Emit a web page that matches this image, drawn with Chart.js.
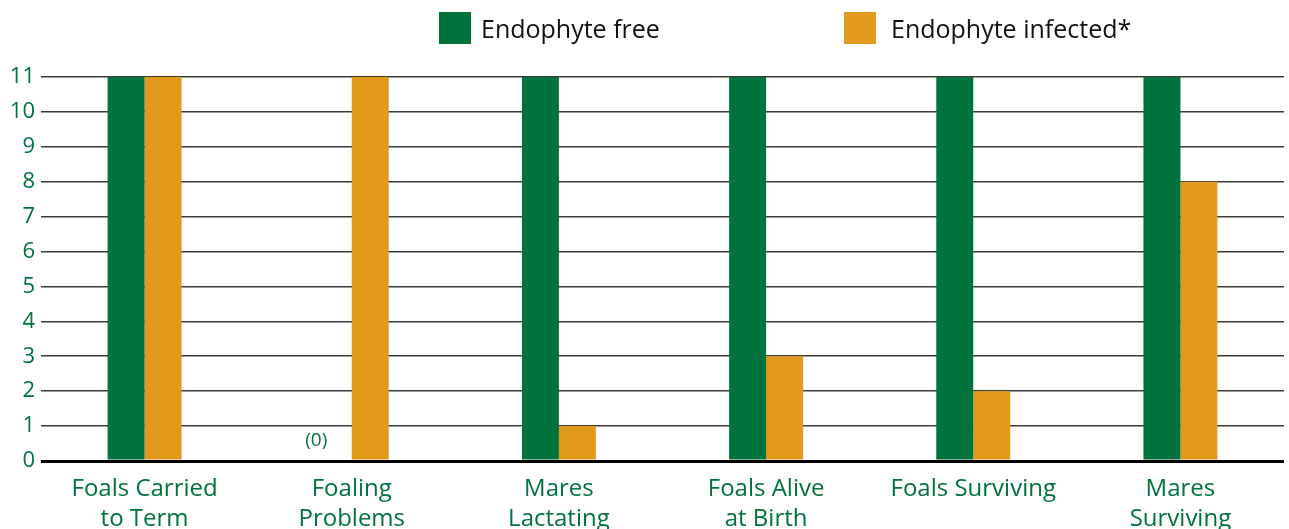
<!DOCTYPE html>
<html>
<head>
<meta charset="utf-8">
<script src="https://cdn.jsdelivr.net/npm/chart.js@4/dist/chart.umd.min.js"></script>
<style>
  html, body { margin: 0; padding: 0; background: #fff; overflow: hidden; }
  #wrap { position: relative; width: 1289px; height: 545px; }
  #legend { position: absolute; top: 0; left: 0; width: 1289px; height: 60px; font-family: "Open Sans", sans-serif; font-size: 25px; color: #111; }
  .item { position: absolute; top: 12px; display: flex; align-items: center; height: 32px; }
  .box { width: 32px; height: 32px; }
</style>
</head>
<body>
<div id="wrap">
  <canvas id="chart" width="1289" height="545"></canvas>
  <div id="legend"></div>
</div>
<script>
const categories = [
    ['Foals Carried', 'to Term'],
    ['Foaling', 'Problems'],
    ['Mares', 'Lactating'],
    ['Foals Alive', 'at Birth'],
    ['Foals Surviving'],
    ['Mares', 'Surviving']
];
const seriesNames = ['Endophyte free', 'Endophyte infected*'];
const endophyteFree = [11, 0, 11, 11, 11, 11];
const endophyteInfected = [11, 11, 1, 3, 2, 8];
const yTicks = [0, 1, 2, 3, 4, 5, 6, 7, 8, 9, 10, 11];

const green = '#00733d';
const orange = '#e3991b';
const legendX = [439, 844];
const legendGap = [10, 15];

// "(0)" note next to the empty green bar
const zeroNote = {
    id: 'zeroNote',
    afterDatasetsDraw(chart) {
        const meta = chart.getDatasetMeta(0);
        const ctx = chart.ctx;
        endophyteFree.forEach((v, i) => {
            if (v !== 0) return;
            const bar = meta.data[i];
            ctx.save();
            ctx.font = '19px "Open Sans", sans-serif';
            ctx.fillStyle = green;
            ctx.textAlign = 'center';
            ctx.textBaseline = 'middle';
            ctx.fillText('(0)', bar.x - 17, bar.y - 20);
            ctx.restore();
        });
    }
};

const chart = new Chart(document.getElementById('chart'), {
    type: 'bar',
    data: {
        labels: categories,
        datasets: [
            { label: seriesNames[0], data: endophyteFree, backgroundColor: green },
            { label: seriesNames[1], data: endophyteInfected, backgroundColor: orange }
        ]
    },
    options: {
        responsive: false,
        animation: false,
        layout: { padding: { top: 77, right: 5, left: 0, bottom: 0 } },
        plugins: { legend: { display: false }, tooltip: { enabled: false } },
        datasets: { bar: { categoryPercentage: 0.357, barPercentage: 1 } },
        scales: {
            x: {
                grid: { display: false },
                border: { display: false },
                ticks: {
                    color: green,
                    font: { family: '"Open Sans", sans-serif', size: 24, lineHeight: 1.25 },
                    padding: 5,
                    maxRotation: 0,
                    autoSkip: false
                },
                afterFit(scale) { scale.height = 84; }
            },
            y: {
                min: 0,
                max: 11,
                afterBuildTicks(scale) { scale.ticks = yTicks.map(v => ({ value: v })); },
                border: { display: false },
                grid: {
                    drawTicks: false,
                    color: ctx => ctx.tick && ctx.tick.value === 0 ? '#000' : '#3a3a3a',
                    lineWidth: ctx => ctx.tick && ctx.tick.value === 0 ? 3 : 1.6
                },
                ticks: {
                    color: green,
                    font: { family: '"Open Sans", sans-serif', size: 22 },
                    padding: 6
                },
                afterFit(scale) { scale.width = 41; }
            }
        }
    },
    plugins: [zeroNote]
});

const legend = document.getElementById('legend');
chart.data.datasets.forEach((ds, i) => {
    const item = document.createElement('div');
    item.className = 'item';
    item.style.left = legendX[i] + 'px';
    const box = document.createElement('div');
    box.className = 'box';
    box.style.background = ds.backgroundColor;
    box.style.marginRight = legendGap[i] + 'px';
    const text = document.createElement('span');
    text.textContent = ds.label;
    item.appendChild(box);
    item.appendChild(text);
    legend.appendChild(item);
});
</script>
</body>
</html>
